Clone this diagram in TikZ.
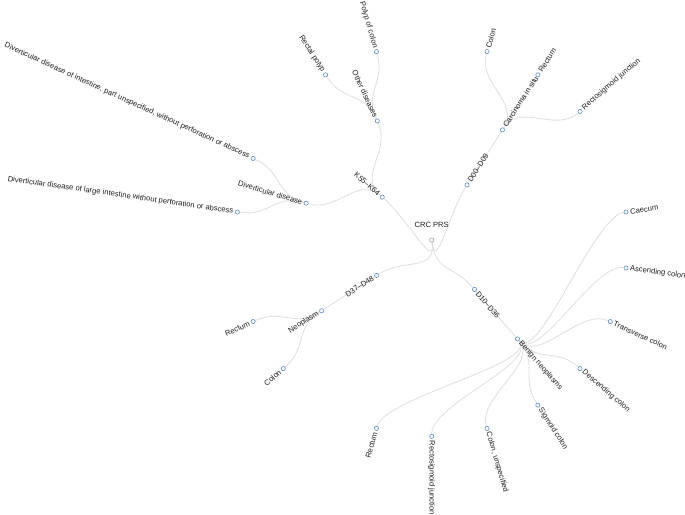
\documentclass[tikz,border=0pt]{standalone}
\usepackage{fontspec}
\setmainfont{Liberation Sans}
\usetikzlibrary{calc,backgrounds}
\definecolor{dotblue}{RGB}{88,140,200}
\definecolor{rootgray}{RGB}{150,160,172}
\definecolor{linkgray}{RGB}{222,222,222}
\definecolor{textgray}{RGB}{30,30,30}
\newcommand\branch[7]{% parent, parent angle, name, angle, depth, side (R/L), label
  \node[dot] (#3) at (#4:{#5*65.45}) {};
  \begin{scope}[on background layer]
    \draw[link] (#1) .. controls (#2:{(#5-0.5)*65.45}) and (#4:{(#5-0.5)*65.45}) .. (#3);
  \end{scope}
  \node[lbl, side#6=#4] (#3-text) at (#4:{#5*65.45+4}) {#7};
}

\begin{document}
\begin{tikzpicture}[x=1pt, y=1pt,
    dot/.style={circle, draw=dotblue, fill=white, line width=0.6pt, minimum size=4.2pt, inner sep=0pt},
    link/.style={draw=linkgray, line width=0.8pt},
    lbl/.style={inner sep=0pt, text=textgray, font=\fontsize{7.6}{9}\selectfont},
    sideR/.style={anchor=west, rotate=#1},
    sideL/.style={anchor=east, rotate=#1+180}]
  \useasboundingbox (-431.7,-274) rectangle (253.3,240);
  \node[dot, draw=rootgray] (root) at (0,0) {};
  \node[lbl] (root-text) at (0,15) {CRC PRS};
  % first level
  \branch{root}{-81.82}{d00}{57.27}{1}{R}{D00--D09}
  \branch{root}{-81.82}{d10}{-49.09}{1}{R}{D10--D36}
  \branch{root}{-81.82}{d37}{212.73}{1}{L}{D37--D48}
  \branch{root}{-81.82}{k55}{139.09}{1}{L}{K55--K64}
  % second level
  \branch{d00}{57.27}{cis}{57.27}{2}{R}{Carcinoma in situ}
  \branch{d10}{-49.09}{benign}{-49.09}{2}{R}{Benign neoplasms}
  \branch{d37}{212.73}{neo}{212.73}{2}{L}{Neoplasm}
  \branch{k55}{139.09}{divd}{163.64}{2}{L}{Diverticular disease}
  \branch{k55}{139.09}{other}{114.55}{2}{L}{Other diseases}
  % leaves
  \branch{cis}{57.27}{cis-colon}{73.64}{3}{R}{Colon}
  \branch{cis}{57.27}{cis-rectum}{57.27}{3}{R}{Rectum}
  \branch{cis}{57.27}{cis-rsj}{40.91}{3}{R}{Rectosigmoid junction}
  \branch{benign}{-49.09}{caecum}{8.18}{3}{R}{Caecum}
  \branch{benign}{-49.09}{ascend}{-8.18}{3}{R}{Ascending colon}
  \branch{benign}{-49.09}{transv}{-24.55}{3}{R}{Transverse colon}
  \branch{benign}{-49.09}{descend}{-40.91}{3}{R}{Descending colon}
  \branch{benign}{-49.09}{sigmoid}{-57.27}{3}{R}{Sigmoid colon}
  \branch{benign}{-49.09}{unspec}{-73.64}{3}{R}{Colon, unspecified}
  \branch{benign}{-49.09}{ben-rsj}{-90}{3}{R}{Rectosigmoid junction}
  \branch{benign}{-49.09}{ben-rectum}{-106.36}{3}{L}{Rectum}
  \branch{neo}{212.73}{neo-rectum}{204.55}{3}{L}{Rectum}
  \branch{neo}{212.73}{neo-colon}{220.91}{3}{L}{Colon}
  \branch{divd}{163.64}{div-large}{171.82}{3}{L}{Diverticular disease of large intestine without perforation or abscess}
  \branch{divd}{163.64}{div-part}{155.45}{3}{L}{Diverticular disease of intestine, part unspecified, without perforation or abscess}
  \branch{other}{114.55}{rect-polyp}{122.73}{3}{L}{Rectal polyp}
  \branch{other}{114.55}{colon-polyp}{106.36}{3}{L}{Polyp of colon}
\end{tikzpicture}
\end{document}
